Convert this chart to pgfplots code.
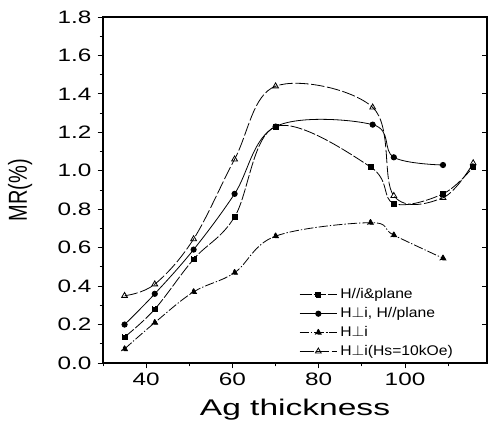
\documentclass[border=0pt]{standalone}
\usepackage{pgfplots}
\pgfplotsset{compat=1.18}
\usepackage{fontspec}
\setmainfont{Liberation Sans}

\begin{document}
\begin{tikzpicture}[x=1pt,y=1pt]
\path[use as bounding box] (-77.25,-50.25) rectangle (300.75,272.25);
\begin{axis}[
  at={(0,0)}, anchor=south west,
  scale only axis, width=288pt, height=259.5pt,
  xmin=30, xmax=119, ymin=0, ymax=1.8,
  xtick={40,60,80,100,120}, minor xtick={30,50,70,90,110},
  ytick={0,0.2,...,1.8}, minor ytick={0.1,0.3,...,1.7},
  xtick pos=bottom, ytick pos=left,
  tick align=outside,
  major tick length=4pt, minor tick length=2.5pt,
  every tick/.style={black, line width=0.6pt},
  axis line style={line width=0.8pt},
  tick label style={font=\fontsize{13.5}{15}\selectfont, xscale=1.35},
  /pgf/number format/assume math mode=true,
  yticklabel style={/pgf/number format/.cd, fixed, fixed zerofill, precision=1},
  xlabel={Ag thickness}, ylabel={MR(\%)},
  xlabel style={font=\fontsize{17}{19}\selectfont, xscale=1.48, at={(axis description cs:0.5,-0.136)}, anchor=center},
  ylabel style={font=\fontsize{15}{17}\selectfont, yscale=1.3, at={(axis description cs:-0.216,0.5)}, anchor=center},
  legend style={at={(axis description cs:0.50,0.0)}, anchor=south west, draw=none, fill=none,
    font=\fontsize{10.5}{12}\selectfont, row sep=1pt,
    nodes={xscale=1.12}},
  legend cell align=left,
  legend image code/.code={\draw[mark repeat=2,mark phase=2,#1] plot coordinates {(0pt,0pt) (14pt,0pt) (28pt,0pt)};},
  every axis plot/.append style={black, line width=0.6pt, mark size=2.2pt, smooth, tension=0.6},
]
\addplot[mark=square*, mark size=1.9pt, dash pattern=on 9pt off 1.5pt] coordinates {
  (35,0.135) (42,0.28) (51,0.54) (60.5,0.76) (70,1.23) (92,1.02) (97.4,0.83) (108.8,0.88) (115.8,1.02)};
\addplot[mark=*, mark size=2pt] coordinates {
  (35,0.20) (42,0.36) (51,0.59) (60.5,0.88) (70,1.23) (92.5,1.24) (97.4,1.07) (108.8,1.03)};
\addplot[mark=triangle*, mark size=2.5pt, dash pattern=on 7pt off 1.5pt on 1pt off 1.5pt] coordinates {
  (35,0.073) (42,0.21) (51,0.37) (60.5,0.47) (70,0.66) (92,0.73) (97.4,0.665) (108.8,0.545)};
\addplot[mark=triangle, mark size=2.5pt, mark options={solid}, dash pattern=on 10pt off 2pt] coordinates {
  (35,0.35) (42,0.41) (51,0.645) (60.5,1.06) (70,1.44) (92.5,1.33) (97.4,0.87) (108.8,0.86) (115.8,1.04)};
\legend{H//i\&plane, {H$\perp$i, H//plane}, H$\perp$i, H$\perp$i(Hs=10kOe)}
\end{axis}
\begin{axis}[
  at={(0,0)}, anchor=south west,
  scale only axis, width=288pt, height=259.5pt,
  xmin=30, xmax=119, ymin=0, ymax=1.8,
  hide x axis, axis y line*=right,
  ytick={0,0.2,...,1.8}, yticklabels={},
  tick align=inside, major tick length=4pt,
  every tick/.style={black, line width=0.6pt},
  axis line style={line width=0.8pt},
]
\end{axis}
\end{tikzpicture}
\end{document}
